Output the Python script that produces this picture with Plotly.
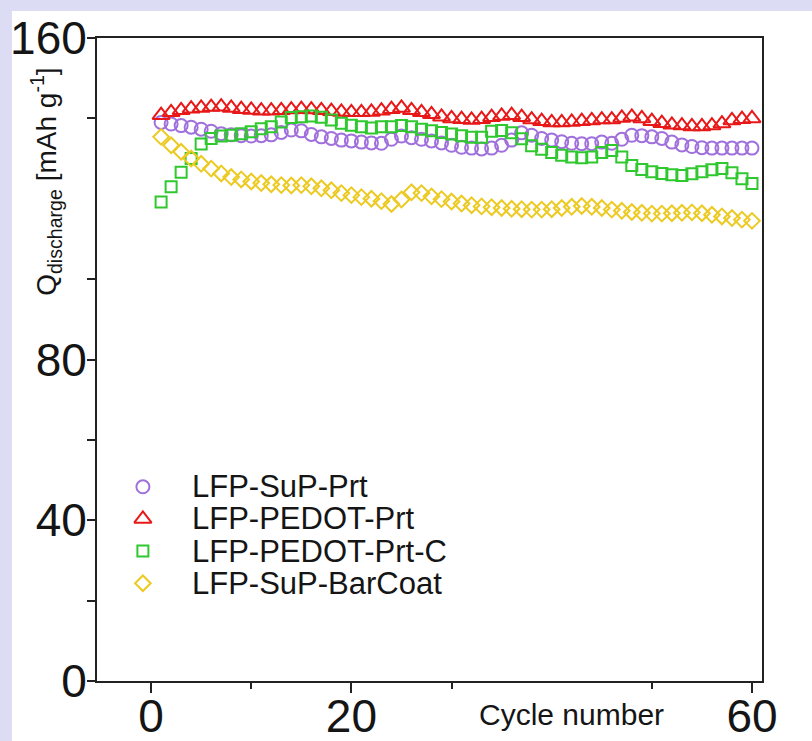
import plotly.graph_objects as go

# Discharge capacity (mAh/g) per cycle for each electrode
cycles = list(range(1, 61))

sup_prt = [139.0, 138.6, 138.2, 137.8, 137.3, 136.8, 136.2, 135.9, 135.7, 135.6,
           135.7, 135.9, 136.5, 137.1, 136.9, 136.0, 135.4, 135.0, 134.6, 134.4,
           134.1, 133.9, 133.8, 134.8, 135.6, 135.2, 134.8, 134.4, 133.9, 133.3,
           132.8, 132.6, 132.4, 132.6, 133.3, 134.6, 136.4, 135.8, 135.0, 134.6,
           134.2, 133.8, 133.7, 133.7, 134.1, 133.8, 134.8, 135.8, 135.7, 135.4,
           135.0, 134.1, 133.4, 133.0, 132.7, 132.6, 132.6, 132.6, 132.6, 132.6]

pedot_prt = [140.8, 141.5, 142.0, 142.4, 142.6, 142.8, 142.9, 142.6, 142.3, 142.1,
             141.9, 141.9, 142.0, 142.2, 142.3, 142.2, 142.0, 141.8, 141.6, 141.5,
             141.5, 141.6, 141.9, 142.3, 142.6, 142.0, 141.5, 141.0, 140.4, 140.0,
             139.8, 139.6, 139.8, 140.3, 140.6, 140.8, 140.3, 139.7, 139.3, 139.0,
             139.0, 139.1, 139.3, 139.5, 139.7, 139.7, 140.1, 140.4, 140.0, 139.3,
             138.8, 138.4, 138.2, 138.0, 138.0, 138.2, 138.7, 139.5, 139.8, 140.0]

pedot_prt_c = [119.2, 123.0, 126.6, 130.0, 133.6, 135.0, 135.6, 135.8, 136.2, 136.7,
               137.4, 137.9, 139.1, 140.2, 140.4, 140.6, 140.3, 139.6, 138.8, 138.3,
               137.9, 137.6, 137.9, 137.9, 138.2, 137.9, 137.3, 136.9, 136.5, 136.1,
               135.7, 135.3, 135.3, 136.8, 137.0, 136.4, 134.9, 133.2, 132.3, 131.5,
               130.8, 130.4, 130.2, 130.4, 131.5, 132.0, 130.4, 128.3, 127.3, 126.7,
               126.3, 126.0, 125.8, 126.2, 126.7, 127.2, 127.5, 126.5, 125.0, 123.8]

sup_barcoat = [135.4, 133.3, 131.7, 130.0, 128.7, 127.5, 126.3, 125.4, 124.8, 124.3,
               123.9, 123.6, 123.4, 123.3, 123.4, 123.1, 122.6, 122.1, 121.4, 120.9,
               120.4, 120.0, 119.4, 118.7, 119.8, 121.6, 121.4, 120.6, 119.9, 119.3,
               118.8, 118.4, 118.1, 117.9, 117.7, 117.5, 117.4, 117.3, 117.3, 117.4,
               117.7, 118.0, 118.2, 118.0, 117.7, 117.3, 117.0, 116.7, 116.5, 116.3,
               116.3, 116.4, 116.5, 116.6, 116.4, 116.0, 115.6, 115.2, 114.8, 114.5]

series_names = ["LFP-SuP-Prt", "LFP-PEDOT-Prt", "LFP-PEDOT-Prt-C", "LFP-SuP-BarCoat"]
series_values = [sup_prt, pedot_prt, pedot_prt_c, sup_barcoat]
series_colors = ["#a070dc", "#e81818", "#2fc82f", "#ecca22"]
series_symbols = ["circle-open", "triangle-up-open", "square-open", "diamond-open"]
series_sizes = [13, 15, 11, 12]

y_ticks = [0, 40, 80, 160]
y_minor_ticks = [20, 60, 100, 140]
x_ticks = [0, 20, 60]
x_minor_ticks = [10, 30, 50]

FONT = "Liberation Sans, Arial, Helvetica, sans-serif"
INK = "#151515"
AXIS = "#222222"

fig = go.Figure()

for name, vals, col, sym, size in zip(series_names, series_values, series_colors,
                                      series_symbols, series_sizes):
    fig.add_trace(go.Scatter(
        x=cycles, y=vals, name=name, mode="markers", showlegend=False,
        marker=dict(symbol=sym, size=size, color=col, line=dict(color=col, width=2)),
    ))

# Hand-placed key in the lower-left corner of the frame (overlay axis 0..1)
key_x = 0.069
key_text_x = 0.140
key_rows = [0.302, 0.252, 0.202, 0.152]
for name, col, sym, size, ky in zip(series_names, series_colors, series_symbols,
                                     series_sizes, key_rows):
    fig.add_trace(go.Scatter(
        x=[key_x], y=[ky], xaxis="x2", yaxis="y2", mode="markers", showlegend=False,
        hoverinfo="skip",
        marker=dict(symbol=sym, size=size, color=col, line=dict(color=col, width=2)),
    ))
    fig.add_annotation(xref="paper", yref="paper", x=key_text_x, y=ky, text=name,
                       showarrow=False, xanchor="left", yanchor="middle",
                       font=dict(family=FONT, size=31, color=INK))

fig.add_annotation(xref="paper", yref="paper", x=0.713, y=-0.052, text="Cycle number",
                   showarrow=False, xanchor="center", yanchor="middle",
                   font=dict(family=FONT, size=30, color=INK))
fig.add_annotation(xref="paper", yref="paper", x=-0.076, y=0.777,
                   text="Q<sub>discharge</sub> [mAh g<sup>-1</sup>]",
                   textangle=-90, showarrow=False, xanchor="center", yanchor="middle",
                   font=dict(family=FONT, size=28, color=INK))

# white card sitting on the lavender page
fig.add_shape(type="rect", xref="paper", yref="paper", layer="below",
              x0=-0.128, x1=1.2, y0=-0.3, y1=1.042,
              fillcolor="white", line=dict(width=0))

fig.update_layout(
    width=812, height=741,
    margin=dict(l=97, r=50, t=38, b=60, autoexpand=False),
    paper_bgcolor="#dcdcf4",
    plot_bgcolor="white",
    font=dict(family=FONT, color=INK),
    xaxis=dict(
        range=[-5.4, 61], showgrid=False, zeroline=False, automargin=False,
        showline=True, linecolor=AXIS, linewidth=2, mirror=True,
        tickmode="array", tickvals=x_ticks, ticktext=[str(v) for v in x_ticks],
        ticks="outside", ticklen=10, tickwidth=2, tickcolor=AXIS,
        ticklabelstandoff=-16,
        tickfont=dict(family=FONT, size=46, color=INK),
        minor=dict(tickmode="array", tickvals=x_minor_ticks, ticks="outside",
                   ticklen=6, tickwidth=2, tickcolor=AXIS),
    ),
    yaxis=dict(
        range=[0, 160], showgrid=False, zeroline=False, automargin=False,
        showline=True, linecolor=AXIS, linewidth=2, mirror=True,
        tickmode="array", tickvals=y_ticks, ticktext=[str(v) for v in y_ticks],
        ticks="outside", ticklen=8, tickwidth=2, tickcolor=AXIS,
        ticklabelstandoff=-9,
        tickfont=dict(family=FONT, size=46, color=INK),
        minor=dict(tickmode="array", tickvals=y_minor_ticks, ticks="outside",
                   ticklen=8, tickwidth=2, tickcolor=AXIS),
    ),
    xaxis2=dict(overlaying="x", range=[0, 1], visible=False),
    yaxis2=dict(overlaying="y", range=[0, 1], visible=False),
)

fig.write_html("out.html")
